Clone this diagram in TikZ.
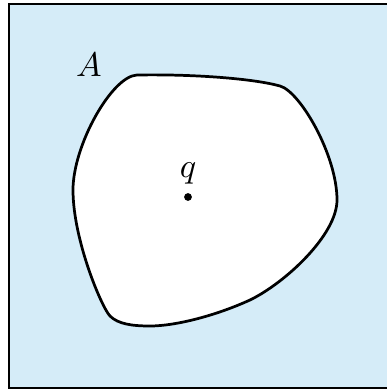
\documentclass[tikz,border=0pt]{standalone}
\usetikzlibrary{positioning}
\definecolor{setblue}{RGB}{213,236,248}
\tikzset{
  region/.style = {draw, thick, fill=setblue},
  hole/.style   = {draw, thick, fill=white},
  lbl/.style    = {inner sep=0pt, anchor=base},
  pt/.style     = {circle, fill=black, inner sep=0pt, minimum size=0.8mm}
}

\begin{document}
\begin{tikzpicture}[x=0.0103cm, y=-0.0103cm]
  \useasboundingbox (0,0) rectangle (387,390);
  % outer region
  \draw[region] (9,4) rectangle (389,388);
  % the set A
  \draw[hole] (137,75) .. controls (197,74) and (255,79) .. (280,86)
    .. controls (300,91.5) and (337,155) .. (337,200)
    .. controls (337,235) and (285,283) .. (250,300)
    .. controls (215,316) and (175,326) .. (150,326)
    .. controls (132,326) and (118,324) .. (110,316)
    .. controls (102,308) and (73,240) .. (73,190)
    .. controls (73,145) and (112,76) .. cycle;
  \node[lbl] (setA) at (89,77) {$A$};
  \node[pt] (qpt) at (188,197) {};
  \node[lbl] (qlbl) at (188,177) {$q$};
\end{tikzpicture}
\end{document}
